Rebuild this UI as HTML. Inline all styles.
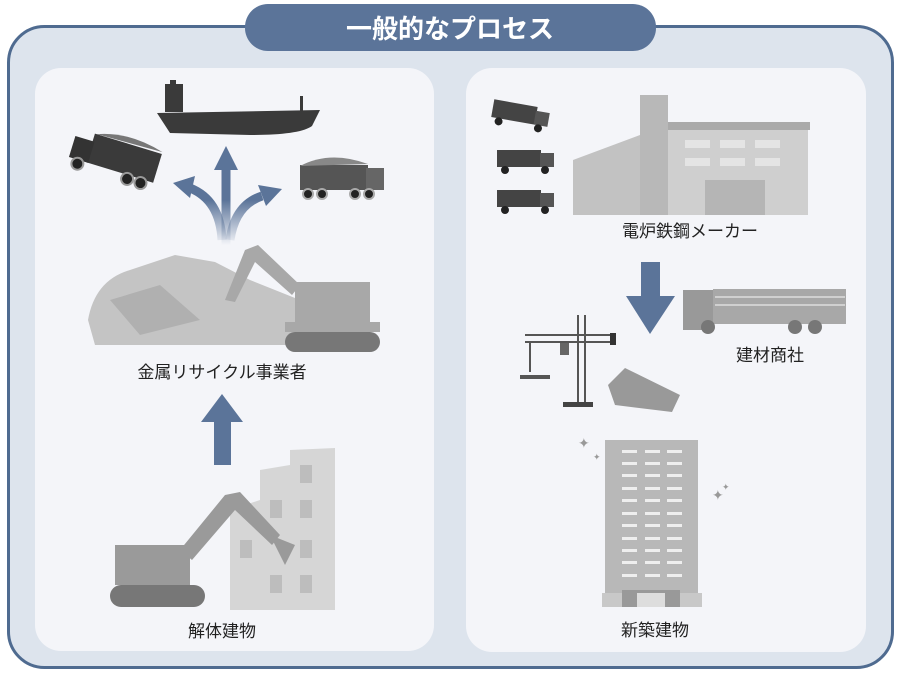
<!DOCTYPE html>
<html><head><meta charset="utf-8"><style>
html,body{margin:0;padding:0;background:#fff;width:900px;height:674px;overflow:hidden}
svg{display:block}
text{font-family:"Liberation Sans","Noto Sans CJK JP",sans-serif}
</style></head><body>
<svg width="900" height="674" viewBox="0 0 900 674" xmlns="http://www.w3.org/2000/svg">
<defs>
<linearGradient id="fade" gradientUnits="userSpaceOnUse" x1="0" y1="245" x2="0" y2="200"><stop offset="0" stop-color="#5b7499" stop-opacity="0"/><stop offset="1" stop-color="#5b7499" stop-opacity="1"/></linearGradient>
</defs>
<rect x="8.5" y="26.5" width="884" height="641" rx="36" fill="#dde4ed" stroke="#4f6b90" stroke-width="3"/>
<rect x="245" y="4" width="411" height="47" rx="23" fill="#5b7499"/>
<text x="450" y="38" text-anchor="middle" font-size="26" font-weight="bold" fill="#fff">一般的なプロセス</text>
<rect x="35" y="68" width="399" height="583" rx="26" fill="#f4f5f9"/>
<rect x="466" y="68" width="400" height="584" rx="26" fill="#f4f5f9"/>

<!-- LEFT: ship -->
<g fill="#3a3a3a">
<rect x="165" y="84" width="18" height="28"/><rect x="170" y="80" width="6" height="6"/>
<path d="M157 113 L320 110 L312 126 Q300 135 250 135 L170 133 Z"/>
<rect x="300" y="96" width="3" height="16"/>
</g>
<!-- tilted truck -->
<g transform="rotate(17 113 160)">
<rect x="88" y="140" width="70" height="30" fill="#3a3a3a"/><path d="M90 140 Q120 128 158 138 Z" fill="#777"/>
<rect x="70" y="148" width="20" height="22" fill="#333"/>
<circle cx="80" cy="174" r="6" fill="#222" stroke="#999" stroke-width="2"/><circle cx="132" cy="174" r="6" fill="#222" stroke="#999" stroke-width="2"/><circle cx="146" cy="174" r="6" fill="#222" stroke="#999" stroke-width="2"/>
</g>
<!-- right truck -->
<rect x="300" y="165" width="68" height="25" fill="#555"/><path d="M300 166 Q330 150 368 164 Z" fill="#888"/>
<rect x="366" y="168" width="18" height="22" fill="#666"/>
<circle cx="308" cy="194" r="5" fill="#222" stroke="#aaa" stroke-width="2"/><circle cx="322" cy="194" r="5" fill="#222" stroke="#aaa" stroke-width="2"/><circle cx="355" cy="194" r="5" fill="#222" stroke="#aaa" stroke-width="2"/><circle cx="369" cy="194" r="5" fill="#222" stroke="#aaa" stroke-width="2"/>
<!-- branching arrows -->
<g fill="none" stroke="url(#fade)" stroke-width="9">
<path d="M226 245 L226 168"/>
<path d="M222 240 Q220 200 190 188"/>
<path d="M230 240 Q235 205 262 196"/>
</g>
<polygon points="226,146 214,170 238,170" fill="#5b7499"/>
<polygon points="173,183 195,176 190,198" fill="#5b7499"/>
<polygon points="282,189 258,185 266,206" fill="#5b7499"/>
<!-- scrap heap -->
<path d="M88 320 Q95 280 130 270 L175 255 L215 262 L250 280 L300 300 L300 345 L95 345 Z" fill="#c4c4c4"/>
<path d="M110 300 L160 285 L200 320 L140 335 Z" fill="#b0b0b0"/>
<!-- excavator -->
<g fill="#a8a8a8">
<rect x="295" y="282" width="75" height="40"/>
<rect x="285" y="322" width="95" height="10"/>
<rect x="285" y="332" width="95" height="20" rx="10" fill="#777"/>
<path d="M300 285 L258 245 L245 250 L225 300 L235 302 L255 262 L292 295 Z"/>
</g>
<text x="222" y="378" text-anchor="middle" font-size="17" fill="#222">金属リサイクル事業者</text>
<!-- up arrow -->
<rect x="214" y="420" width="17" height="45" fill="#5b7499"/>
<polygon points="222,394 201,422 243,422" fill="#5b7499"/>
<!-- demolished building -->
<g fill="#d6d6d6">
<path d="M230 610 L230 510 L260 500 L260 470 L290 465 L290 450 L335 448 L335 610 Z"/>
</g>
<g fill="#bdbdbd">
<rect x="300" y="465" width="12" height="18"/><rect x="300" y="500" width="12" height="18"/><rect x="300" y="540" width="12" height="18"/><rect x="300" y="575" width="12" height="18"/>
<rect x="270" y="500" width="12" height="18"/><rect x="270" y="575" width="12" height="18"/><rect x="240" y="540" width="12" height="18"/>
</g>
<g fill="#9a9a9a">
<rect x="115" y="545" width="75" height="40"/>
<rect x="110" y="585" width="95" height="22" rx="11" fill="#777"/>
<path d="M180 550 L225 495 L240 492 L280 535 L272 545 L235 510 L192 560 Z"/>
<path d="M270 535 L295 545 L285 565 Z"/>
</g>
<text x="222" y="637" text-anchor="middle" font-size="17" fill="#222">解体建物</text>

<!-- RIGHT: trucks -->
<g fill="#444">
<g transform="rotate(10 520 115)"><rect x="492" y="104" width="44" height="18"/><rect x="535" y="108" width="14" height="14" fill="#555"/><circle cx="500" cy="125" r="4" fill="#222"/><circle cx="540" cy="125" r="4" fill="#222"/></g>
<rect x="497" y="150" width="44" height="17"/><rect x="540" y="153" width="14" height="14" fill="#555"/><circle cx="505" cy="170" r="4" fill="#222"/><circle cx="545" cy="170" r="4" fill="#222"/>
<rect x="497" y="190" width="44" height="17"/><rect x="540" y="193" width="14" height="14" fill="#555"/><circle cx="505" cy="210" r="4" fill="#222"/><circle cx="545" cy="210" r="4" fill="#222"/>
</g>
<!-- factory -->
<rect x="640" y="95" width="28" height="120" fill="#b8b8b8"/>
<path d="M573 160 L640 135 L640 215 L573 215 Z" fill="#c2c2c2"/>
<rect x="668" y="122" width="140" height="93" fill="#cfcfcf"/>
<rect x="668" y="122" width="142" height="8" fill="#aaa"/>
<g fill="#e4e4e4"><rect x="685" y="140" width="25" height="8"/><rect x="720" y="140" width="25" height="8"/><rect x="755" y="140" width="25" height="8"/><rect x="685" y="158" width="25" height="8"/><rect x="720" y="158" width="25" height="8"/><rect x="755" y="158" width="25" height="8"/></g>
<rect x="705" y="180" width="60" height="35" fill="#b5b5b5"/>
<text x="690" y="237" text-anchor="middle" font-size="17" fill="#222">電炉鉄鋼メーカー</text>
<!-- down arrow -->
<rect x="641" y="262" width="19" height="36" fill="#5b7499"/>
<polygon points="626,296 675,296 650,334" fill="#5b7499"/>
<!-- flatbed truck -->
<rect x="683" y="290" width="30" height="40" fill="#999"/>
<rect x="713" y="289" width="133" height="35" fill="#a8a8a8"/>
<g stroke="#d0d0d0" stroke-width="2"><line x1="715" y1="297" x2="845" y2="297"/><line x1="715" y1="305" x2="845" y2="305"/></g>
<circle cx="708" cy="327" r="7" fill="#777"/><circle cx="795" cy="327" r="7" fill="#777"/><circle cx="815" cy="327" r="7" fill="#777"/>
<text x="770" y="361" text-anchor="middle" font-size="17" fill="#222">建材商社</text>
<!-- crane -->
<g stroke="#555" stroke-width="2" fill="none">
<line x1="578" y1="315" x2="578" y2="405"/><line x1="585" y1="315" x2="585" y2="405"/>
<line x1="525" y1="335" x2="615" y2="335"/><line x1="525" y1="342" x2="615" y2="342"/>
<line x1="530" y1="342" x2="530" y2="372"/>
</g>
<rect x="520" y="375" width="30" height="4" fill="#555"/><rect x="563" y="402" width="30" height="5" fill="#444"/>
<rect x="560" y="343" width="9" height="12" fill="#666"/><rect x="610" y="333" width="6" height="12" fill="#333"/>
<!-- beams -->
<path d="M608 385 L625 368 L680 395 L672 412 L615 405 Z" fill="#999"/>
<!-- tall building -->
<rect x="605" y="440" width="93" height="162" fill="#b8b8b8"/>
<rect x="602" y="593" width="100" height="14" fill="#c8c8c8"/>
<rect x="622" y="590" width="58" height="17" fill="#999"/><rect x="637" y="593" width="28" height="14" fill="#ddd"/>
<g fill="#eee">
<rect x="622" y="450" width="15" height="3"/><rect x="645" y="450" width="15" height="3"/><rect x="667" y="450" width="15" height="3"/>
<rect x="622" y="462" width="15" height="3"/><rect x="645" y="462" width="15" height="3"/><rect x="667" y="462" width="15" height="3"/>
<rect x="622" y="474" width="15" height="3"/><rect x="645" y="474" width="15" height="3"/><rect x="667" y="474" width="15" height="3"/>
<rect x="622" y="487" width="15" height="3"/><rect x="645" y="487" width="15" height="3"/><rect x="667" y="487" width="15" height="3"/>
<rect x="622" y="499" width="15" height="3"/><rect x="645" y="499" width="15" height="3"/><rect x="667" y="499" width="15" height="3"/>
<rect x="622" y="512" width="15" height="3"/><rect x="645" y="512" width="15" height="3"/><rect x="667" y="512" width="15" height="3"/>
<rect x="622" y="524" width="15" height="3"/><rect x="645" y="524" width="15" height="3"/><rect x="667" y="524" width="15" height="3"/>
<rect x="622" y="537" width="15" height="3"/><rect x="645" y="537" width="15" height="3"/><rect x="667" y="537" width="15" height="3"/>
<rect x="622" y="549" width="15" height="3"/><rect x="645" y="549" width="15" height="3"/><rect x="667" y="549" width="15" height="3"/>
<rect x="622" y="561" width="15" height="3"/><rect x="645" y="561" width="15" height="3"/><rect x="667" y="561" width="15" height="3"/>
<rect x="622" y="574" width="15" height="3"/><rect x="645" y="574" width="15" height="3"/><rect x="667" y="574" width="15" height="3"/>
</g>
<g fill="#999" font-size="14"><text x="578" y="448">✦</text><text x="593" y="460" font-size="9">✦</text><text x="712" y="500">✦</text><text x="722" y="490" font-size="9">✦</text></g>
<text x="655" y="636" text-anchor="middle" font-size="17" fill="#222">新築建物</text>
</svg>
</body></html>
